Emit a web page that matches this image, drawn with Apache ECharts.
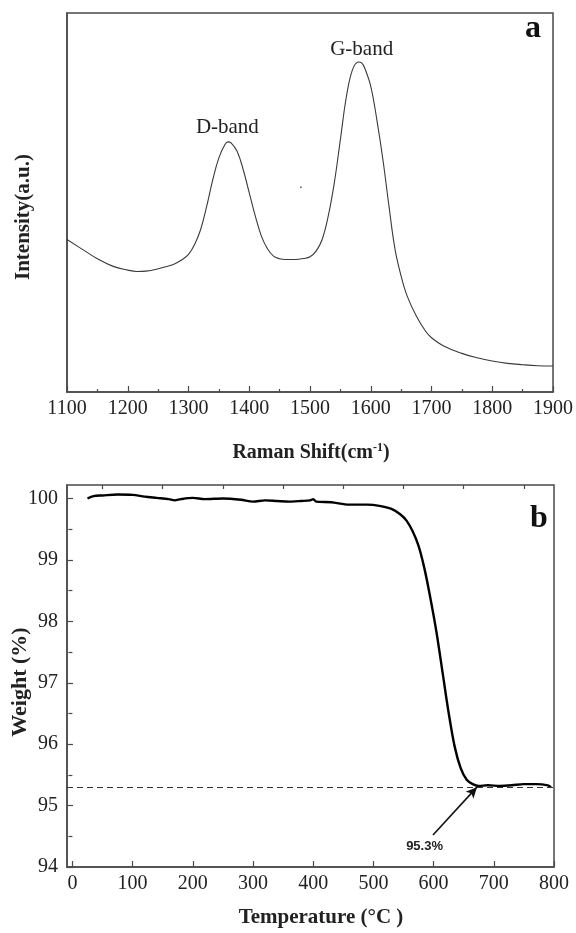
<!DOCTYPE html>
<html>
<head>
<meta charset="utf-8">
<script src="https://cdn.jsdelivr.net/npm/echarts@6/dist/echarts.min.js"></script>
<style>
html,body{margin:0;padding:0;background:#fff;}
#chart{width:576px;height:933px;}
</style>
</head>
<body>
<div id="chart"></div>
<script>
// ---- Panel a: Raman spectrum ----
const ramanX = [1100,1130,1150,1175,1200,1215,1230,1250,1275,1290,1300,1310,1320,1330,1340,1350,1360,1365,1370,1380,1390,1400,1410,1420,1430,1440,1450,1460,1475,1490,1500,1510,1520,1530,1540,1550,1560,1570,1580,1585,1590,1600,1610,1620,1630,1640,1650,1660,1675,1690,1700,1720,1750,1775,1800,1825,1850,1875,1900];
const ramanY = [45.8,42.3,40.0,37.8,36.6,36.2,36.3,37.0,38.3,39.8,41.3,44.3,48.8,55.8,63.8,70.3,74.3,75.1,74.8,72.3,66.8,59.8,52.8,46.8,43.0,40.8,40.0,39.8,39.8,40.1,40.6,42.3,45.8,52.8,62.8,75.8,88.8,96.8,99.1,98.8,97.3,91.8,81.8,69.8,55.8,42.8,34.8,28.8,22.8,18.3,16.3,13.8,11.6,10.3,9.3,8.6,8.2,7.9,7.8];
const ramanTicks = [1100,1200,1300,1400,1500,1600,1700,1800,1900];
const ramanSpeck = [[1485, 61.5]];
const bandLabels = [{name:'D-band', x:1364, y:79.4},{name:'G-band', x:1585, y:102.8}];

// ---- Panel b: TGA curve ----
const tgaX = [25,35,50,75,100,120,140,160,170,180,200,220,250,280,300,320,340,360,380,395,400,405,430,460,490,510,530,545,555,565,575,585,595,605,615,625,635,645,655,665,675,690,710,730,750,770,790,795];
const tgaY = [100.0,100.04,100.05,100.065,100.06,100.03,100.01,99.99,99.97,99.99,100.01,99.99,100.0,99.98,99.95,99.97,99.96,99.95,99.96,99.97,99.99,99.95,99.94,99.90,99.90,99.88,99.83,99.74,99.64,99.47,99.23,98.85,98.36,97.81,97.16,96.51,95.96,95.61,95.42,95.35,95.32,95.33,95.32,95.33,95.35,95.35,95.33,95.3];
const tgaXTicks = [0,100,200,300,400,500,600,700,800];
const tgaXMinor = [50,150,250,350,450,550,650,750];
const tgaYTicks = [94,95,96,97,98,99,100];
const tgaYMinor = [94.5,95.5,96.5,97.5,98.5,99.5];
const residue = 95.3;
const arrowFrom = [599, 94.52];
const arrowTo = [672, 95.3];
const residueLabel = [585, 94.34];

const serif = '"Liberation Serif", "DejaVu Serif", serif';
const axisCol = '#4a4a4a';
const plain = v => String(v);

const chart = echarts.init(document.getElementById('chart'), null, {renderer:'canvas'});

const ramanData = ramanX.map((x,i)=>[x, ramanY[i]]);
const tgaData = tgaX.map((x,i)=>[x, tgaY[i]]);

const option = {
  animation:false,
  backgroundColor:'#fff',
  grid:[
    {left:67, top:13, width:487, height:379, show:true, borderColor:axisCol, borderWidth:1.5, backgroundColor:'transparent'},
    {left:67, top:485, width:487, height:382, show:true, borderColor:axisCol, borderWidth:1.5, backgroundColor:'transparent'}
  ],
  xAxis:[
    {gridIndex:0, type:'value', min:1100, max:1900, interval:100,
     axisLine:{show:true, lineStyle:{color:axisCol, width:1.5}},
     axisTick:{show:true, inside:true, length:6, lineStyle:{color:axisCol, width:1.2}},
     minorTick:{show:true, splitNumber:2, length:3, lineStyle:{color:axisCol, width:1.2}},
     splitLine:{show:false},
     axisLabel:{margin:7, color:'#222', fontFamily:serif, fontSize:20, formatter:plain, customValues:ramanTicks}},
    {gridIndex:1, type:'value', min:-9, max:800,
     axisLine:{show:true, onZero:false, lineStyle:{color:axisCol, width:1.5}},
     axisTick:{show:true, inside:true, length:6, customValues:tgaXTicks, lineStyle:{color:axisCol, width:1.2}},
     splitLine:{show:false},
     axisLabel:{margin:7, color:'#222', fontFamily:serif, fontSize:20, formatter:plain, customValues:tgaXTicks}},
    {gridIndex:1, type:'value', min:-9, max:800,
     axisLine:{show:false},
     axisTick:{show:true, inside:true, length:4, customValues:tgaXMinor, lineStyle:{color:axisCol, width:1.2}},
     splitLine:{show:false},
     axisLabel:{show:false}}
  ],
  yAxis:[
    {gridIndex:0, type:'value', min:0, max:113.8,
     axisLine:{show:true, lineStyle:{color:axisCol, width:1.5}},
     axisTick:{show:false}, axisLabel:{show:false}, splitLine:{show:false}},
    {gridIndex:1, type:'value', min:94, max:100.22,
     axisLine:{show:true, onZero:false, lineStyle:{color:axisCol, width:1.5}},
     axisTick:{show:true, inside:true, length:6, customValues:tgaYTicks, lineStyle:{color:axisCol, width:1.2}},
     splitLine:{show:false},
     axisLabel:{margin:9, color:'#222', fontFamily:serif, fontSize:20, formatter:plain, customValues:tgaYTicks}},
    {gridIndex:1, type:'value', min:94, max:100.22,
     axisLine:{show:false},
     axisTick:{show:true, inside:true, length:4, customValues:tgaYMinor, lineStyle:{color:axisCol, width:1.2}},
     splitLine:{show:false}, axisLabel:{show:false}}
  ],
  series:[
    {type:'line', xAxisIndex:0, yAxisIndex:0, data:ramanData, smooth:0.4, showSymbol:false,
     lineStyle:{color:'#3a3a3a', width:1.1},
     markPoint:{symbol:'circle', symbolSize:0, silent:true,
       label:{show:true, color:'#222', fontFamily:serif, fontSize:21, formatter:p=>p.name},
       data:bandLabels.map(b=>({name:b.name, coord:[b.x,b.y]}))}},
    {type:'scatter', xAxisIndex:0, yAxisIndex:0, data:ramanSpeck, symbolSize:2,
     itemStyle:{color:'#555'}, silent:true},
    {type:'line', xAxisIndex:1, yAxisIndex:1, data:tgaData, smooth:0.3, showSymbol:false,
     lineStyle:{color:'#000', width:2.4},
     markLine:{silent:true, animation:false,
       data:[
         [{coord:[-9, residue], symbol:'none', lineStyle:{type:[6,4], color:'#333', width:1.2}},
          {coord:[800, residue], symbol:'none'}],
         [{coord:arrowFrom, symbol:'none', lineStyle:{type:'solid', color:'#111', width:1.6}},
          {coord:arrowTo, symbol:'arrow', symbolSize:[8,11]}]
       ],
       label:{show:false}},
     markPoint:{symbol:'circle', symbolSize:0, silent:true,
       label:{show:true, color:'#222', fontFamily:'"Liberation Sans", Arial, sans-serif', fontWeight:'bold', fontSize:13, formatter:'95.3%'},
       data:[{coord:residueLabel}]}}
  ],
  graphic:[
    {type:'text', x:533, y:29, style:{text:'a', font:'bold 32px '+serif, fill:'#111', align:'center', verticalAlign:'middle'}},
    {type:'text', x:539, y:519, style:{text:'b', font:'bold 32px '+serif, fill:'#111', align:'center', verticalAlign:'middle'}},
    {type:'text', x:24, y:217, rotation:Math.PI/2, style:{text:'Intensity(a.u.)', font:'bold 21px '+serif, fill:'#222', align:'center', verticalAlign:'middle'}},
    {type:'text', x:20, y:682, rotation:Math.PI/2, style:{text:'Weight (%)', font:'bold 22px '+serif, fill:'#222', align:'center', verticalAlign:'middle'}},
    {type:'text', x:311, y:453, style:{
      rich:{n:{font:'bold 20px '+serif, fill:'#222'}, s:{font:'bold 12px '+serif, fill:'#222', verticalAlign:'top', padding:[0,0,10,0]}},
      text:'{n|Raman Shift(cm}{s|-1}{n|)}', align:'center', verticalAlign:'middle'}},
    {type:'text', x:321, y:918, style:{text:'Temperature (°C )', font:'bold 21px '+serif, fill:'#222', align:'center', verticalAlign:'middle'}}
  ]
};
chart.setOption(option);
</script>
</body>
</html>
